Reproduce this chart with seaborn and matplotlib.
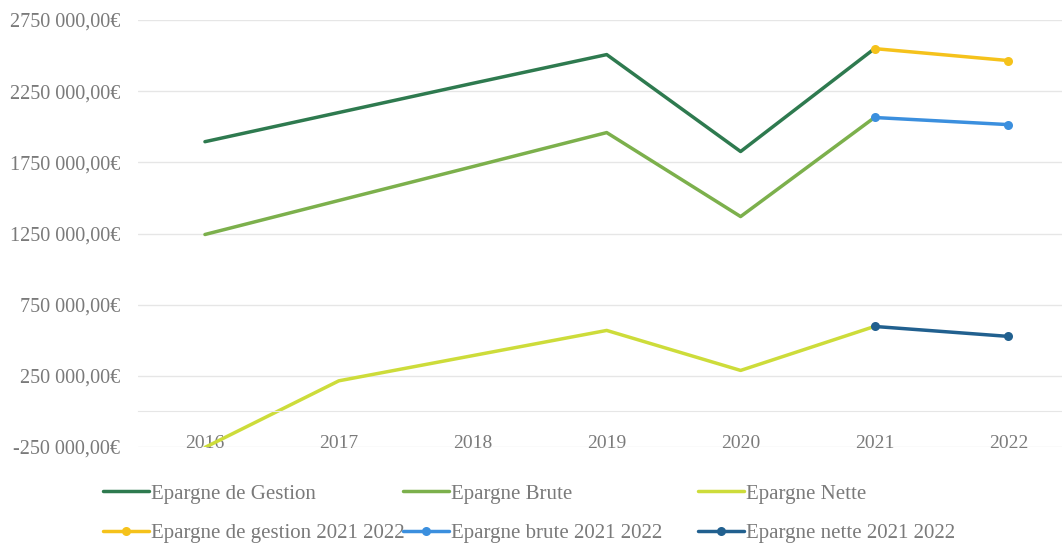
import matplotlib
matplotlib.use("Agg")
import matplotlib.pyplot as plt
from matplotlib.ticker import FuncFormatter
import pandas as pd
import seaborn as sns

years = [2016, 2017, 2018, 2019, 2020, 2021, 2022]

# main series (2016-2021)
epargne_gestion = [1895000, 2100000, 2305000, 2507000, 1826000, 2549000]
epargne_brute = [1243000, 1482000, 1720000, 1959000, 1369000, 2065000]
epargne_nette = [-253000, 215000, 392000, 569000, 288000, 597000]

# 2021-2022 extensions
years_2122 = [2021, 2022]
gestion_2122 = [2549000, 2465000]
brute_2122 = [2065000, 2015000]
nette_2122 = [597000, 527000]

series = [
    ("Epargne de Gestion", years[:6], epargne_gestion, "#2e7a4f", None),
    ("Epargne Brute", years[:6], epargne_brute, "#7cb04c", None),
    ("Epargne Nette", years[:6], epargne_nette, "#cddc3a", None),
    ("Epargne de gestion 2021 2022", years_2122, gestion_2122, "#f5c21b", "o"),
    ("Epargne brute 2021 2022", years_2122, brute_2122, "#3b8fde", "o"),
    ("Epargne nette 2021 2022", years_2122, nette_2122, "#21608f", "o"),
]

sns.set_style("white")
plt.rcParams["font.family"] = ["Liberation Serif", "DejaVu Serif"]
grey = "#7a7a7a"

fig = plt.figure(figsize=(10.62, 5.49), dpi=100)
ax = fig.add_axes([138 / 1062, 1 - 447 / 549, 1 - 138 / 1062, (447 - 20) / 549])

handles = {}
for name, xs, ys, color, marker in series:
    df = pd.DataFrame({"year": xs, "value": ys})
    sns.lineplot(data=df, x="year", y="value", ax=ax, color=color, linewidth=2.5,
                 marker=marker, markersize=6.5, markeredgewidth=0, label=name, legend=False)
    handles[name] = ax.lines[-1]

ax.set_xlim(2015.5, 2022.4)
ax.set_ylim(-250000, 2750000)
ax.set_yticks(range(-250000, 2750001, 500000))
ax.set_xticks(years)


def euro(v, _):
    s = f"{abs(int(v)):,}".replace(",", " ")
    s = s.replace(" ", "", 1) if abs(v) >= 1000000 else s
    return ("-" if v < 0 else "") + s + ",00€"


ax.yaxis.set_major_formatter(FuncFormatter(euro))
ax.grid(axis="y", color="#e6e6e6", linewidth=1)
for side in ["top", "right", "left"]:
    ax.spines[side].set_visible(False)
ax.spines["bottom"].set_position(("data", 0))
ax.spines["bottom"].set_color("#e6e6e6")
ax.tick_params(axis="x", length=0, pad=17, labelsize=14, labelcolor=grey)
ax.tick_params(axis="y", length=0, pad=13, labelsize=14.5, labelcolor=grey)
ax.set_xlabel("")
ax.set_ylabel("")

columns = [
    ("Epargne de Gestion", "Epargne de gestion 2021 2022"),
    ("Epargne Brute", "Epargne brute 2021 2022"),
    ("Epargne Nette", "Epargne nette 2021 2022"),
]
col_x = [103, 403, 698]
for cx, names in zip(col_x, columns):
    leg = fig.legend([handles[n] for n in names], list(names), loc="upper left",
                     bbox_to_anchor=(cx / 1062, 1 - 484 / 549), frameon=False,
                     fontsize=15, handlelength=2.2, handletextpad=0.1,
                     labelspacing=0.95, borderpad=0, borderaxespad=0)
    for t in leg.get_texts():
        t.set_color(grey)

fig.savefig("out.png", dpi=100, facecolor="white")
